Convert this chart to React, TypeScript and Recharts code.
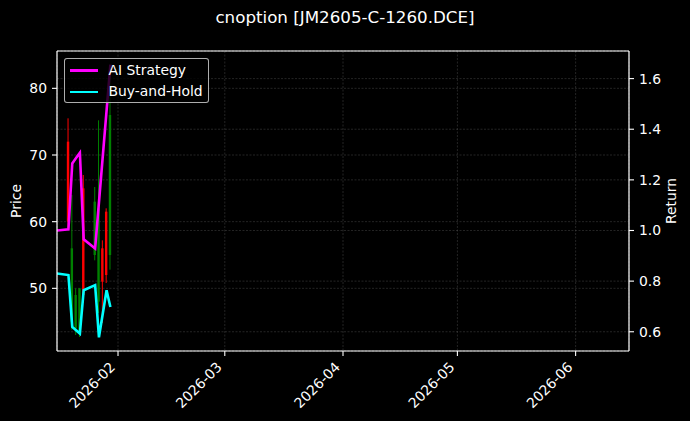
import { Bar, CartesianGrid, ComposedChart, Line, ReferenceLine, XAxis, YAxis } from 'recharts';

// trading days shown in the chart
const dates = ['2026-01-16', '2026-01-19', '2026-01-20', '2026-01-21', '2026-01-22', '2026-01-23', '2026-01-26', '2026-01-27', '2026-01-28', '2026-01-29', '2026-01-30'];

// option price candles (no candle drawn on the first day)
const opens = [null, 72, 45, 44, 43.5, 65, 55, 48, 56, 61.5, 55];
const highs = [null, 75.5, 64.0, 50.0, 50.0, 67.0, 65.2, 75.2, 57.2, 62.0, 83.5];
const lows = [null, 59.0, 43.8, 43.0, 42.7, 47.8, 54.2, 46.3, 44.8, 50.8, 52.8];
const closes = [null, 60, 56, 49, 50, 49, 63, 62, 51, 52, 76];

// return curves (right axis)
const aiStrategy = [1.0, 1.005, 1.265, 1.286, 1.307, 0.965, 0.929, null, null, null, 1.655];
const buyAndHold = [0.83, 0.824, 0.619, 0.606, 0.593, 0.764, 0.784, 0.578, null, 0.764, 0.698];

const tickDates = ['2026-02-01', '2026-03-01', '2026-04-01', '2026-05-01', '2026-06-01'];

const toTime = (d: string) => Date.parse(d + 'T00:00:00Z');

const data = dates.map((d, i) => ({
  t: toTime(d),
  open: opens[i],
  high: highs[i],
  low: lows[i],
  close: closes[i],
  range: highs[i] == null ? null : [lows[i], highs[i]],
  ai: aiStrategy[i],
  bh: buyAndHold[i],
}));

const FONT = '"DejaVu Sans", sans-serif';
const xDomain = [toTime('2026-01-16'), toTime('2026-06-15')];
const priceDomain = [40.6, 85.6];
const returnDomain = [0.524, 1.709];

const Candle = (props: any) => {
  const { x, y, width, height, payload } = props;
  if (payload == null || payload.high == null || !height) return null;
  const top = Math.min(y, y + height);
  const h = Math.abs(height);
  const k = h / (payload.high - payload.low);
  const cx = x + width / 2;
  const bTop = top + (payload.high - Math.max(payload.open, payload.close)) * k;
  const bBot = top + (payload.high - Math.min(payload.open, payload.close)) * k;
  const color = payload.close >= payload.open ? '#008000' : '#ff0000';
  return (
    <g>
      <line x1={cx} x2={cx} y1={top} y2={top + h} stroke={color} strokeWidth={1} />
      <rect x={cx - 1.2} y={bTop} width={2.4} height={Math.max(bBot - bTop, 0.8)} fill={color} />
    </g>
  );
};

const DateTick = (props: any) => {
  const { x, y, payload } = props;
  const d = new Date(payload.value);
  const label = d.getUTCFullYear() + '-' + String(d.getUTCMonth() + 1).padStart(2, '0');
  return (
    <text x={x - 2} y={y + 10} transform={`rotate(-45 ${x - 2} ${y + 10})`} textAnchor="end" fill="#fff" fontSize={13.9} fontFamily={FONT}>
      {label}
    </text>
  );
};

export default function App() {
  const tickStyle = { fill: '#fff', fontSize: 13.9, fontFamily: FONT };
  const axisLine = { stroke: '#fff', strokeWidth: 1.2 };
  const tickLine = { stroke: '#fff', strokeWidth: 1.1 };
  return (
    <div style={{ position: 'absolute', left: 0, top: 0, width: 690, height: 421, background: '#000', fontFamily: FONT, color: '#fff' }}>
      <ComposedChart width={690} height={421} data={data} margin={{ top: 51, right: 0, bottom: 0, left: 0 }}>
        <CartesianGrid yAxisId="left" stroke="#666" strokeOpacity={0.6} strokeWidth={0.6} strokeDasharray="2 1.5" />
        <CartesianGrid yAxisId="right" vertical={false} stroke="#666" strokeOpacity={0.6} strokeWidth={0.6} strokeDasharray="2 1.5" />
        <XAxis
          dataKey="t"
          type="number"
          domain={xDomain}
          ticks={tickDates.map(toTime)}
          interval={0}
          allowDataOverflow
          height={70}
          axisLine={axisLine}
          tickLine={tickLine}
          tickSize={5}
          tick={<DateTick />}
        />
        <YAxis
          yAxisId="left"
          orientation="left"
          width={57}
          domain={priceDomain}
          ticks={[50, 60, 70, 80]}
          interval={0}
          allowDataOverflow
          axisLine={axisLine}
          tickLine={tickLine}
          tickSize={5}
          tickMargin={5}
          tick={tickStyle}
        />
        <YAxis
          yAxisId="right"
          orientation="right"
          width={61}
          domain={returnDomain}
          ticks={[0.6, 0.8, 1.0, 1.2, 1.4, 1.6]}
          interval={0}
          tickFormatter={(v: number) => v.toFixed(1)}
          allowDataOverflow
          axisLine={axisLine}
          tickLine={tickLine}
          tickSize={5}
          tickMargin={5}
          tick={tickStyle}
        />
        <ReferenceLine yAxisId="left" y={priceDomain[1]} stroke="#fff" strokeWidth={1.2} />
        <Bar yAxisId="left" dataKey="range" barSize={3} shape={<Candle />} isAnimationActive={false} />
        <Line yAxisId="right" dataKey="ai" stroke="#ff00ff" strokeWidth={2.6} dot={false} connectNulls isAnimationActive={false} />
        <Line yAxisId="right" dataKey="bh" stroke="#00ffff" strokeWidth={2.6} dot={false} connectNulls isAnimationActive={false} />
      </ComposedChart>

      <div style={{ position: 'absolute', left: 0, width: 690, top: 9, textAlign: 'center', fontSize: 16.7, lineHeight: 1 }}>
        cnoption [JM2605-C-1260.DCE]
      </div>

      <div style={{ position: 'absolute', left: 17, top: 201, fontSize: 13.9, lineHeight: 1, transform: 'translate(-50%, -50%) rotate(-90deg)', whiteSpace: 'nowrap' }}>
        Price
      </div>
      <div style={{ position: 'absolute', left: 672, top: 201, fontSize: 13.9, lineHeight: 1, transform: 'translate(-50%, -50%) rotate(-90deg)', whiteSpace: 'nowrap' }}>
        Return
      </div>

      <div style={{ position: 'absolute', left: 63.5, top: 58, width: 145, height: 45, boxSizing: 'border-box', border: '1px solid rgba(204,204,204,0.85)', borderRadius: 3, background: 'rgba(0,0,0,0.8)' }}>
        <div style={{ position: 'absolute', left: 5, top: 10.3, width: 28, height: 2.6, background: '#ff00ff' }} />
        <div style={{ position: 'absolute', left: 44, top: 4.6, fontSize: 13.9, lineHeight: 1, whiteSpace: 'nowrap' }}>AI Strategy</div>
        <div style={{ position: 'absolute', left: 5, top: 31.7, width: 28, height: 2.6, background: '#00ffff' }} />
        <div style={{ position: 'absolute', left: 44, top: 26, fontSize: 13.9, lineHeight: 1, whiteSpace: 'nowrap' }}>Buy-and-Hold</div>
      </div>
    </div>
  );
}
